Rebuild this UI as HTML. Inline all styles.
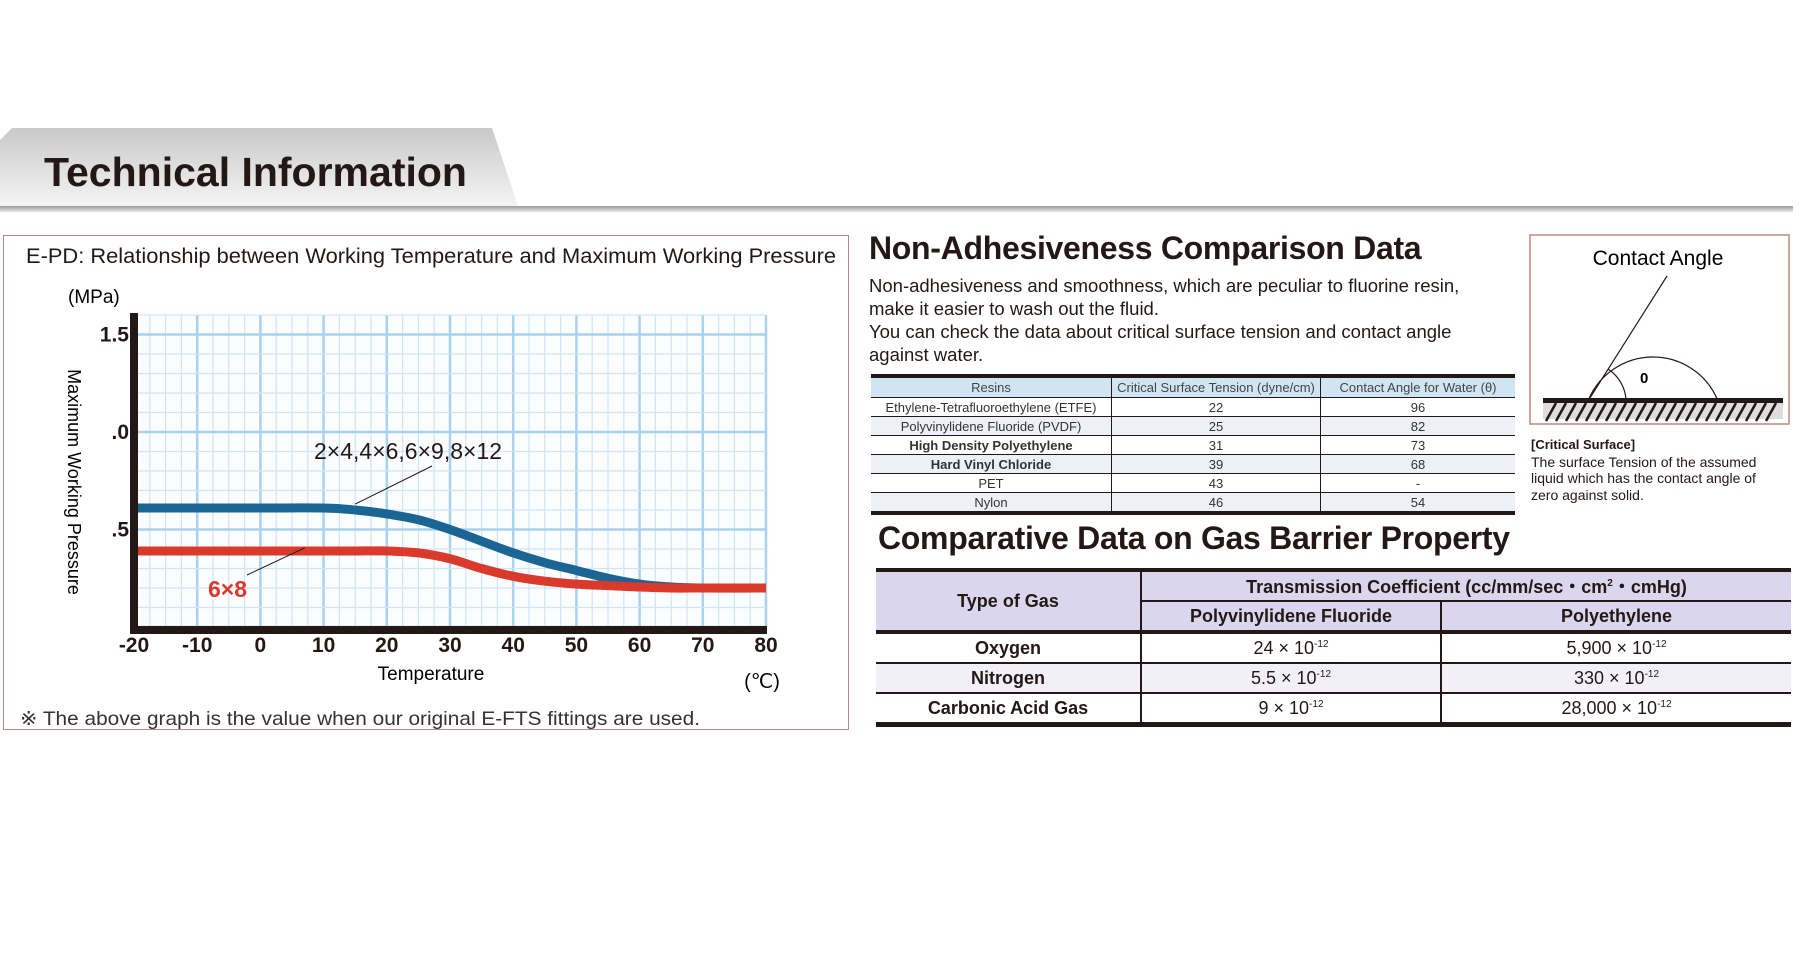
<!DOCTYPE html>
<html><head><meta charset="utf-8">
<style>
body{margin:0;width:1800px;height:960px;background:#fff;position:relative;overflow:hidden;font-family:"Liberation Sans",sans-serif;color:#231815}
.abs{position:absolute}
table{border-collapse:collapse}
#t1{position:absolute;left:871px;top:374px;width:644px;font-size:13px;border-top:4px solid #231815;border-bottom:4px solid #231815}
#t1 td{height:18px;padding:0;text-align:center;border-bottom:1.5px solid #231815;border-left:1.5px solid #231815;line-height:17px;color:#333}
#t1 td:first-child{border-left:none}
#t1 tr.h td{background:#cfe5f2;height:19px;color:#444}
#t1 tr.a td{background:#eef0f8}
#t2{position:absolute;left:876px;top:568px;width:915px;font-size:18px;font-weight:bold;border-top:4px solid #231815;border-bottom:5px solid #231815}
#t2 td{height:28px;padding:0;text-align:center;border-bottom:2px solid #231815;border-left:2px solid #231815}
#t2 td.f{border-left:none}
#t2 .hd td{background:#dad6ee}
#t2 tr.b1 td{border-top:4px solid #231815}
#t2 .hd td.f{background:#dad6ee}
#t2 tr.a td{background:#f1f0f8}
#t2 td.v{font-weight:normal}
sup{font-size:10px}
</style></head><body>
<svg class="abs" style="left:0;top:0" width="1800" height="960">
<defs><linearGradient id="tab" x1="0" y1="0" x2="0" y2="1"><stop offset="0" stop-color="#c9c9c9"/><stop offset="1" stop-color="#f4f4f4"/></linearGradient>
<linearGradient id="ln" x1="0" y1="0" x2="0" y2="1"><stop offset="0" stop-color="#9a9a9a"/><stop offset="1" stop-color="#e8e8e8"/></linearGradient></defs>
<path d="M12 128 L492 128 L518 206 L0 206 L0 140 Z" fill="url(#tab)"/>
<rect x="0" y="206" width="1793" height="6" fill="url(#ln)"/>
<text x="44" y="186" font-size="41" font-weight="bold" fill="#231815" font-family="Liberation Sans">Technical Information</text>
</svg>

<div class="abs" style="left:3px;top:235px;width:844px;height:493px;border:1.5px solid #b88b7d"></div>
<svg id="chart" class="abs" style="left:0;top:0" width="860" height="740">
<text x="26" y="263" font-size="21.5" textLength="810" lengthAdjust="spacingAndGlyphs" fill="#231815">E-PD: Relationship between Working Temperature and Maximum Working Pressure</text>
<g id="grid"></g><g id="series"></g><g id="axes"></g>
<text x="68" y="303" font-size="19">(MPa)</text>
<text transform="translate(68,482) rotate(90)" text-anchor="middle" font-size="18">Maximum Working Pressure</text>
<text x="431" y="680" text-anchor="middle" font-size="19">Temperature</text>
<text x="762" y="688" text-anchor="middle" font-size="20">(℃)</text>
<text x="20" y="725" font-size="19.5" textLength="680" lengthAdjust="spacingAndGlyphs" fill="#333">※ The above graph is the value when our original E-FTS fittings are used.</text>
</svg>

<div class="abs" style="left:869px;top:230px;font-size:32px;font-weight:bold;letter-spacing:-0.3px">Non-Adhesiveness Comparison Data</div>
<div class="abs" style="left:869px;top:274px;font-size:18.5px;line-height:23px;width:660px">Non-adhesiveness and smoothness, which are peculiar to fluorine resin,<br>make it easier to wash out the fluid.<br>You can check the data about critical surface tension and contact angle<br>against water.</div>
<table id="t1">
<tr class="h"><td style="width:240px">Resins</td><td style="width:208px">Critical Surface Tension (dyne/cm)</td><td>Contact Angle for Water (θ)</td></tr>
<tr><td>Ethylene-Tetrafluoroethylene (ETFE)</td><td>22</td><td>96</td></tr>
<tr class="a"><td>Polyvinylidene Fluoride (PVDF)</td><td>25</td><td>82</td></tr>
<tr><td><b>High Density Polyethylene</b></td><td>31</td><td>73</td></tr>
<tr class="a"><td><b>Hard Vinyl Chloride</b></td><td>39</td><td>68</td></tr>
<tr><td>PET</td><td>43</td><td>-</td></tr>
<tr class="a"><td>Nylon</td><td>46</td><td>54</td></tr>
</table>

<svg class="abs" style="left:1528px;top:233px" width="264" height="195">
<rect x="2" y="2" width="259" height="189" fill="#fff" stroke="#b88b7d" stroke-width="1.5"/>
<text x="130" y="32" text-anchor="middle" font-size="21">Contact Angle</text>
<rect x="15" y="166" width="240" height="20" fill="#ddd"/>
<g stroke="#231815" stroke-width="2.5" id="hatch"></g>
<rect x="15" y="165" width="240" height="5" fill="#231815"/>
<path d="M60 168 A70 70 0 0 1 190 168" fill="none" stroke="#231815" stroke-width="1.2"/>
<line x1="60" y1="168" x2="139" y2="43" stroke="#231815" stroke-width="1.2"/>
<path d="M80 136 A40 40 0 0 1 98 166" fill="none" stroke="#231815" stroke-width="1.2"/>
<text x="112" y="150" font-size="15" font-weight="bold">0</text>
</svg>
<div class="abs" style="left:1531px;top:436px;font-size:14px;line-height:16.5px;width:260px"><b style="font-size:13px">[Critical Surface]</b><br>The surface Tension of the assumed<br>liquid which has the contact angle of<br>zero against solid.</div>

<div class="abs" style="left:878px;top:520px;font-size:32px;font-weight:bold;letter-spacing:-0.3px">Comparative Data on Gas Barrier Property</div>
<table id="t2">
<tr class="hd"><td class="f" rowspan="2" style="width:264px">Type of Gas</td><td colspan="2">Transmission Coefficient (cc/mm/sec・cm<sup>2</sup>・cmHg)</td></tr>
<tr class="hd"><td style="width:298px">Polyvinylidene Fluoride</td><td>Polyethylene</td></tr>
<tr class="b1"><td class="f">Oxygen</td><td class="v">24 × 10<sup>-12</sup></td><td class="v">5,900 × 10<sup>-12</sup></td></tr>
<tr class="a"><td class="f">Nitrogen</td><td class="v">5.5 × 10<sup>-12</sup></td><td class="v">330 × 10<sup>-12</sup></td></tr>
<tr><td class="f">Carbonic Acid Gas</td><td class="v">9 × 10<sup>-12</sup></td><td class="v">28,000 × 10<sup>-12</sup></td></tr>
</table>

<script>
const xTicks=[-20,-10,0,10,20,30,40,50,60,70,80];
const yTicks=[0.5,1.0,1.5];
const yTickLabels=[".5",".0","1.5"];
const temps=[-20,-10,0,10,15,20,25,30,35,40,45,50,55,60,65,70,80];
const bigSizes=[0.61,0.61,0.61,0.61,0.60,0.58,0.55,0.50,0.44,0.38,0.33,0.29,0.25,0.22,0.205,0.20,0.20];
const size6x8=[0.39,0.39,0.39,0.39,0.39,0.39,0.38,0.35,0.30,0.26,0.235,0.22,0.212,0.205,0.20,0.20,0.20];
const NS="http://www.w3.org/2000/svg";
const X=t=>134+(t+20)*6.32, Y=v=>627-v*195;
function mk(tag,at,parent){const e=document.createElementNS(NS,tag);for(const k in at)e.setAttribute(k,at[k]);parent.appendChild(e);return e;}
const grid=document.getElementById('grid'),ser=document.getElementById('series'),ax=document.getElementById('axes');
mk('rect',{x:134,y:Y(1.6),width:632,height:Y(0)-Y(1.6),fill:'#fbfdff'},grid);
for(let t=-20;t<=80;t+=2.5){const maj=t%10===0;mk('line',{x1:X(t),x2:X(t),y1:Y(1.6),y2:Y(0),stroke:maj?'#a9d2ee':'#cfe6f6','stroke-width':maj?2.5:1.2},grid);}
for(let i=0;i<=16;i++){const v=i/10;const maj=i%5===0;mk('line',{x1:134,x2:766,y1:Y(v),y2:Y(v),stroke:maj?'#a9d2ee':'#cfe6f6','stroke-width':maj?2.5:1.2},grid);}
function path(vals){const p=temps.map((t,i)=>[X(t),Y(vals[i])]);let d='M'+p[0];for(let i=0;i<p.length-1;i++){const p0=p[i-1]||p[i],p1=p[i],p2=p[i+1],p3=p[i+2]||p2;const c1=[p1[0]+(p2[0]-p0[0])/6,p1[1]+(p2[1]-p0[1])/6],c2=[p2[0]-(p3[0]-p1[0])/6,p2[1]-(p3[1]-p1[1])/6];d+=' C'+c1+' '+c2+' '+p2;}return d;}
const b=mk('path',{d:path(bigSizes),fill:'none',stroke:'#1b6594','stroke-width':9},ser);


const r=mk('path',{d:path(size6x8),fill:'none',stroke:'#d93a2b','stroke-width':9},ser);


const l1=mk('text',{x:314,y:459,'font-size':23,fill:'#231815'},ser);l1.textContent='2×4,4×6,6×9,8×12';


mk('line',{x1:X(15),y1:Y(0.61)-4,x2:432,y2:466,stroke:'#231815','stroke-width':1},ser);
const l2=mk('text',{x:208,y:597,'font-size':23,fill:'#d93a2b','font-weight':'bold'},ser);l2.textContent='6×8';


mk('line',{x1:247,y1:575,x2:X(7),y2:Y(0.39)-3,stroke:'#231815','stroke-width':1},ser);
mk('rect',{x:130,y:Y(1.6)-2,width:8,height:Y(0)-Y(1.6)+6,fill:'#231815'},ax);
mk('rect',{x:130,y:Y(0)-1,width:637,height:8,fill:'#231815'},ax);
xTicks.forEach(t=>{const e=mk('text',{x:X(t),y:652,'text-anchor':'middle','font-size':21,'font-weight':'bold',fill:'#231815'},ax);e.textContent=t;

});
yTicks.forEach((v,i)=>{const e=mk('text',{x:129,y:Y(v)+7,'text-anchor':'end','font-size':21,'font-weight':'bold',fill:'#231815'},ax);e.textContent=yTickLabels[i];

});
const h=document.getElementById('hatch');for(let x=28;x<250;x+=10)mk('line',{x1:x,y1:170,x2:x-10,y2:188},h);
</script>
</body></html>
